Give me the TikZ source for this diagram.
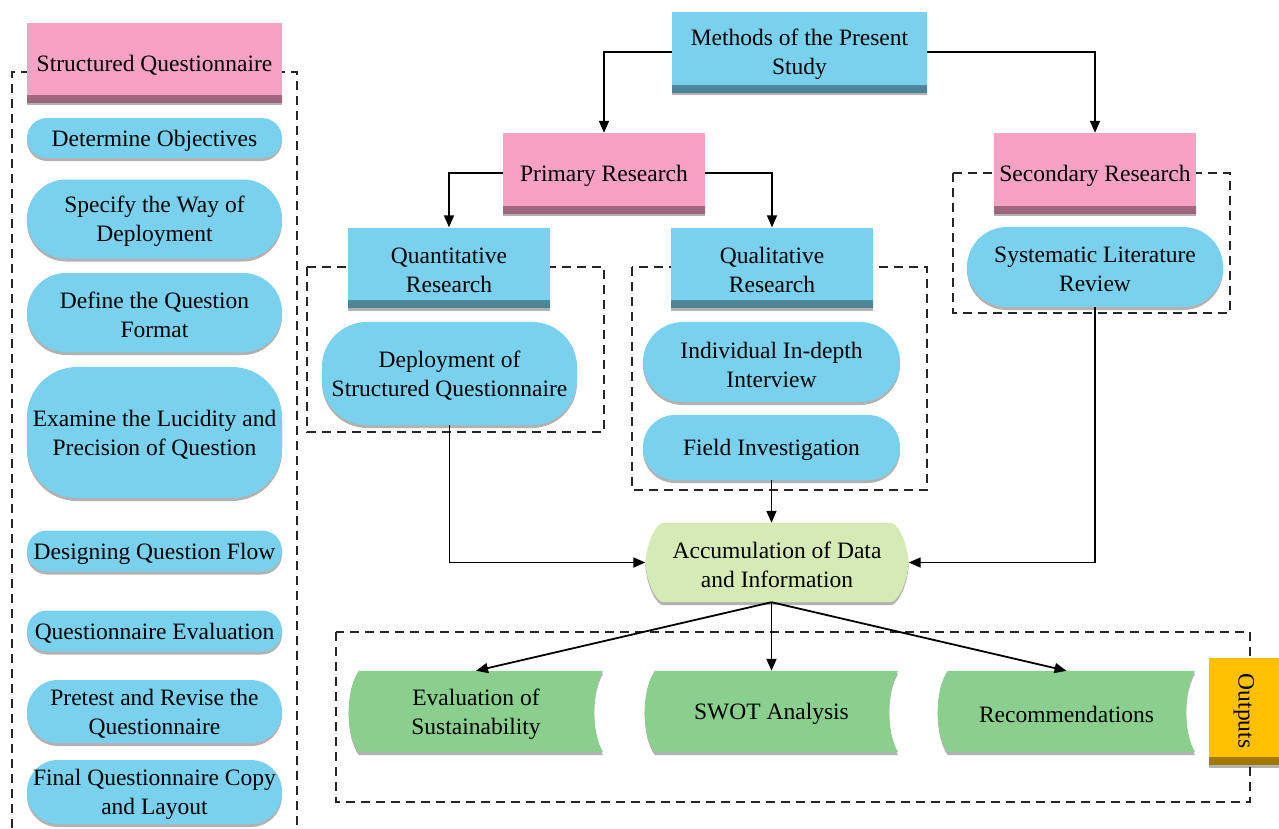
\documentclass[tikz,border=0pt]{standalone}
\usepackage{fontspec}
\setmainfont{Liberation Serif}
\usetikzlibrary{calc,shadows,arrows.meta,backgrounds}
\definecolor{cblue}{RGB}{122,209,238}
\definecolor{cpink}{RGB}{247,161,196}
\definecolor{clgreen}{RGB}{214,234,181}
\definecolor{cgreen}{RGB}{138,207,142}
\definecolor{corange}{RGB}{255,192,0}
\tikzset{
  txt/.style={font=\fontsize{23.5}{29}\selectfont, align=center, inner sep=0pt, text=black},
  T/.style={label={[txt,yshift=-2.5pt]center:#1}},
  sz/.style 2 args={minimum width=#1, minimum height=#2, inner sep=0pt},
  rect/.style={fill=#1, softshadow, path picture={\shade[top color=#1, bottom color=#1!62!black]
      ([yshift=7pt]path picture bounding box.south west) rectangle (path picture bounding box.south east);}},
  softshadow/.style={drop shadow={shadow xshift=0pt, shadow yshift=-3pt, opacity=0.3, fill=black}},
  pill/.style={fill=cblue, rounded corners=#1, softshadow},
  dashbox/.style={draw=black!85, line width=1.3pt, dash pattern=on 9pt off 6pt},
  arr/.style={draw, line width=1.8pt, -{Triangle[length=12pt,width=10pt]}},
}
\begin{document}
\begin{tikzpicture}[x=1pt,y=-1pt]
\useasboundingbox (0,0) rectangle (1279,828);

% dashed frames
\draw[dashbox] (12,828) -- (12,72) -- (297,72) -- (297,828);
\draw[dashbox] (307,267) rectangle (604,432);
\draw[dashbox] (632,267) rectangle (927,490);
\draw[dashbox] (953,173) rectangle (1230,313);
\draw[dashbox] (336,632) rectangle (1250,802);

% left column
\node[rect=cpink, sz={255}{79}, T={Structured Questionnaire}] (sq) at (154.5,62.5) {};
\node[pill=20pt, sz={255}{40}, T={Determine Objectives}] (d1) at (154.5,138) {};
\node[pill=39pt, sz={255}{79}, T={Specify the Way of\\Deployment}] (d2) at (154.5,219) {};
\node[pill=39pt, sz={255}{79}, T={Define the Question\\Format}] (d3) at (154.5,312.5) {};
\node[pill=50pt, sz={255}{131}, T={Examine the Lucidity and\\Precision of Question}] (d4) at (154.5,432.5) {};
\node[pill=20pt, sz={255}{41}, T={Designing Question Flow}] (d5) at (154.5,551) {};
\node[pill=20pt, sz={255}{41}, T={Questionnaire Evaluation}] (d6) at (154.5,631) {};
\node[pill=31pt, sz={255}{63}, T={Pretest and Revise the\\Questionnaire}] (d7) at (154.5,711.5) {};
\node[pill=31pt, sz={255}{64}, T={Final Questionnaire Copy\\and Layout}] (d8) at (154.5,792) {};

% right part
\node[rect=cblue, sz={255}{80}, T={Methods of the Present\\Study}] (mps) at (799.5,52) {};
\node[rect=cpink, sz={202}{80}, T={Primary Research}] (pr) at (604,173) {};
\node[rect=cpink, sz={202}{80}, T={Secondary Research}] (sr) at (1095,173) {};
\node[rect=cblue, sz={202}{80}, T={Quantitative\\Research}] (qn) at (449,267.5) {};
\node[rect=cblue, sz={202}{80}, T={Qualitative\\Research}] (ql) at (772,267.5) {};
\node[pill=45pt, sz={255}{103}, T={Deployment of\\Structured Questionnaire}] (dep) at (449.5,373.5) {};
\node[pill=40pt, sz={257}{80}, T={Individual In-depth\\Interview}] (iid) at (771.5,362) {};
\node[pill=32pt, sz={257}{65}, T={Field Investigation}] (fi) at (771.5,447.5) {};
\node[pill=40pt, sz={256}{80}, T={Systematic Literature\\Review}] (slr) at (1095,267) {};

\node[sz={263}{79}, T={Accumulation of Data\\and Information}] (acc) at (777,562.5) {};
\node[sz={254}{81}, T={Evaluation of\\Sustainability}] (eos) at (476,711.5) {};
\node[sz={253}{81}, T={SWOT Analysis}] (swot) at (771.5,711.5) {};
\node[sz={257}{81}, T={Recommendations}] (rec) at (1066.5,711.5) {};
\node[rect=corange, txt, sz={70}{107}] (out) at (1244,711) {\rotatebox{-90}{Outputs}};

\begin{scope}[on background layer]
  \fill[clgreen, softshadow]
     ($(acc.north west)+(18,0)$) -- ($(acc.north east)+(-18,0)$)
     .. controls ($(acc.north east)+(-12,0)$) and ($(acc.east)+(-2,-24)$) .. (acc.east)
     .. controls ($(acc.east)+(-2,24)$) and ($(acc.south east)+(-12,0)$) .. ($(acc.south east)+(-18,0)$)
     -- ($(acc.south west)+(18,0)$)
     .. controls ($(acc.south west)+(12,0)$) and ($(acc.west)+(2,24)$) .. (acc.west)
     .. controls ($(acc.west)+(2,-24)$) and ($(acc.north west)+(12,0)$) .. cycle;
  \foreach \n in {eos,swot,rec}{
    \fill[cgreen, softshadow] ($(\n.north west)+(10,0)$) -- (\n.north east)
       .. controls ($(\n.east)+(-12,-22)$) and ($(\n.east)+(-12,22)$) .. (\n.south east)
       -- ($(\n.south west)+(10,0)$)
       .. controls ($(\n.west)+(-3.5,22)$) and ($(\n.west)+(-3.5,-22)$) .. cycle;
  }
\end{scope}

% connectors
\draw[arr] (mps.west) -| (pr.north);
\draw[arr] (mps.east) -| (sr.north);
\draw[arr] (pr.west) -| (qn.north);
\draw[arr] (pr.east) -| (ql.north);
\draw[arr] (dep.south) |- (acc.west);
\draw[arr] (slr.south) |- (acc.east);
\draw[arr] (fi.south) -- (fi.south |- acc.north);
\coordinate (accb) at (fi.south |- acc.south);
\draw[arr] (accb) -- (eos.north);
\draw[arr] (accb) -- (swot.north);
\draw[arr] (accb) -- (rec.north);
\end{tikzpicture}
\end{document}
